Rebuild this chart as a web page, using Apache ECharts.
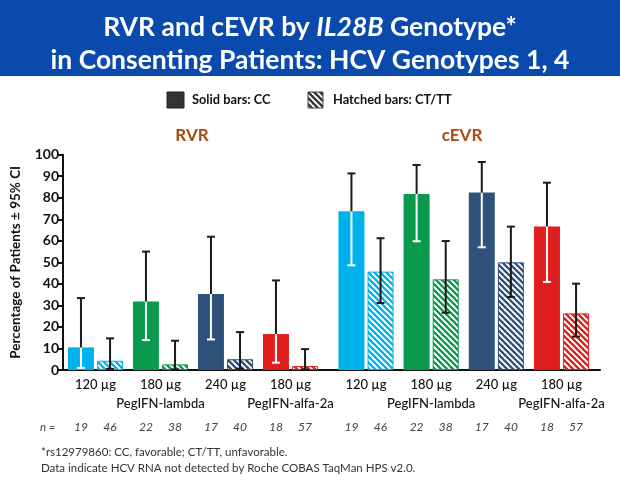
<!DOCTYPE html>
<html>
<head>
<meta charset="utf-8">
<script src="https://cdn.jsdelivr.net/npm/echarts@6/dist/echarts.min.js"></script>
<style>
html,body{margin:0;padding:0;background:#fff;}
#chart{width:620px;height:486px;}
</style>
</head>
<body>
<div id="chart"></div>
<script>
// ---- data ----
var doses = ['120 µg', '180 µg', '240 µg', '180 µg'];
var drugs = ['', 'PegIFN-lambda', '', 'PegIFN-alfa-2a'];
var nCC = [19, 22, 17, 18];
var nCTTT = [46, 38, 40, 57];
var yTicks = [0, 10, 20, 30, 40, 50, 60, 70, 80, 90, 100];

var rvrCC = [10.5, 31.8, 35.3, 16.7];
var rvrCCLow = [1.0, 13.9, 14.2, 3.4];
var rvrCCHigh = [33.4, 55.0, 61.9, 41.6];
var rvrHet = [4.3, 2.6, 5.0, 1.8];
var rvrHetLow = [0.5, 0.3, 0.6, 0.2];
var rvrHetHigh = [14.7, 13.6, 17.6, 9.7];

var cevrCC = [73.7, 81.8, 82.4, 66.7];
var cevrCCLow = [48.6, 59.8, 57.0, 40.9];
var cevrCCHigh = [91.3, 95.2, 96.6, 87.0];
var cevrHet = [45.7, 42.1, 50.0, 26.3];
var cevrHetLow = [31.1, 26.6, 33.9, 15.5];
var cevrHetHigh = [61.2, 59.9, 66.6, 40.1];

// ---- styles ----
var colors = ['#00b2ec', '#0a9a4e', '#2f527a', '#e01e1e'];
var FONT = 'Lato, "Open Sans", sans-serif';
var BARW = 26, GAP = 3.1, OFF = (BARW + GAP) / 2;

function hatch(color) {
  var p = 6;
  var c = document.createElement('canvas');
  c.width = p; c.height = p;
  var ctx = c.getContext('2d');
  ctx.fillStyle = '#ffffff';
  ctx.fillRect(0, 0, p, p);
  ctx.strokeStyle = color;
  ctx.lineWidth = 2.3;
  for (var k = -1; k <= 1; k++) {
    ctx.beginPath();
    ctx.moveTo(k * p - 1, -1);
    ctx.lineTo(k * p + p + 1, p + 1);
    ctx.stroke();
  }
  return { image: c, repeat: 'repeat' };
}

function solidData(vals) {
  return vals.map(function (v, i) { return { value: v, itemStyle: { color: colors[i] } }; });
}
function hatchData(vals) {
  return vals.map(function (v, i) {
    return { value: v, itemStyle: { color: hatch(colors[i]), borderColor: colors[i], borderWidth: 1 } };
  });
}
function errData(ccV, ccL, ccH, hV, hL, hH) {
  var out = [];
  for (var i = 0; i < ccV.length; i++) {
    out.push([i, ccL[i], ccH[i], ccV[i], 0]);
    out.push([i, hL[i], hH[i], hV[i], 1]);
  }
  return out;
}

function renderErr(params, api) {
  var i = api.value(0), lo = api.value(1), hi = api.value(2), top = api.value(3), kind = api.value(4);
  var off = kind === 0 ? -OFF : OFF;
  var pLo = api.coord([i, lo]), pHi = api.coord([i, hi]), pTop = api.coord([i, top]);
  var x = pLo[0] + off;
  var blk = '#1a1a1a', wht = '#ffffff', cap = 4, lw = 2;
  var ch = [];
  if (kind === 0) {
    ch.push({ type: 'line', shape: { x1: x, y1: pLo[1], x2: x, y2: pTop[1] }, style: { stroke: wht, lineWidth: lw } });
    ch.push({ type: 'line', shape: { x1: x - cap, y1: pLo[1], x2: x + cap, y2: pLo[1] }, style: { stroke: wht, lineWidth: lw } });
    ch.push({ type: 'line', shape: { x1: x, y1: pTop[1], x2: x, y2: pHi[1] }, style: { stroke: blk, lineWidth: lw } });
  } else {
    ch.push({ type: 'line', shape: { x1: x, y1: pLo[1], x2: x, y2: pHi[1] }, style: { stroke: blk, lineWidth: lw } });
    ch.push({ type: 'line', shape: { x1: x - cap, y1: pLo[1], x2: x + cap, y2: pLo[1] }, style: { stroke: blk, lineWidth: lw } });
  }
  ch.push({ type: 'line', shape: { x1: x - cap, y1: pHi[1], x2: x + cap, y2: pHi[1] }, style: { stroke: blk, lineWidth: lw } });
  return { type: 'group', children: ch };
}

var doseLabel = {
  show: true, interval: 0, color: '#111', fontFamily: FONT, fontSize: 13, fontWeight: 500, lineHeight: 19, margin: 5,
  formatter: function (v, i) { return drugs[i] ? v + '\n' + drugs[i] : v; }
};
var nLabel = {
  show: true, interval: 0, margin: 0, fontFamily: FONT,
  formatter: function (v, i) { return '{a|' + nCC[i] + '}{b|' + nCTTT[i] + '}'; },
  rich: {
    a: { width: 2 * OFF, align: 'center', fontStyle: 'italic', fontSize: 12, color: '#444', fontFamily: FONT },
    b: { width: 2 * OFF, align: 'center', fontStyle: 'italic', fontSize: 12, color: '#444', fontFamily: FONT }
  }
};
function catAxis(grid, label, offset) {
  return {
    type: 'category', gridIndex: grid, data: doses, position: 'bottom', offset: offset || 0,
    axisLine: { show: false }, axisTick: { show: false }, splitLine: { show: false }, axisLabel: label
  };
}
function hiddenY(grid) {
  return { type: 'value', gridIndex: grid, min: 0, max: 100, interval: 10, show: false };
}

var chart = echarts.init(document.getElementById('chart'), null, { renderer: 'canvas' });
chart.setOption({
  animation: false,
  backgroundColor: '#ffffff',
  title: {
    left: 'center', top: 6,
    text: '{b|RVR and cEVR by }{i|IL28B}{b| Genotype*}\n{b|in Consenting Patients: HCV Genotypes 1, 4}',
    textStyle: {
      rich: {
        b: { color: '#fff', fontFamily: FONT, fontWeight: 'bold', fontSize: 26.5, lineHeight: 33 },
        i: { color: '#fff', fontFamily: FONT, fontWeight: 'bold', fontStyle: 'italic', fontSize: 26.5, lineHeight: 33 }
      }
    }
  },
  graphic: [
    { type: 'rect', z: -10, shape: { x: 0, y: 0, width: 620, height: 76 }, style: { fill: '#0b4aad' } },
    { type: 'rect', shape: { x: 167, y: 92, width: 17, height: 16 }, style: { fill: '#333', stroke: '#222', lineWidth: 1 } },
    { type: 'text', x: 192, y: 100, style: { text: 'Solid bars: CC', fontFamily: FONT, fontWeight: 'bold', fontSize: 12.8, fill: '#111', verticalAlign: 'middle' } },
    { type: 'rect', shape: { x: 308, y: 92, width: 15, height: 16 }, style: { fill: hatch('#333'), stroke: '#444', lineWidth: 1 } },
    { type: 'text', x: 333, y: 100, style: { text: 'Hatched bars: CT/TT', fontFamily: FONT, fontWeight: 'bold', fontSize: 12.8, fill: '#111', verticalAlign: 'middle' } },
    { type: 'text', x: 192, y: 136, style: { text: 'RVR', fontFamily: FONT, fontWeight: 'bold', fontSize: 17, fill: '#a84b10', align: 'center', verticalAlign: 'middle' } },
    { type: 'text', x: 462, y: 136, style: { text: 'cEVR', fontFamily: FONT, fontWeight: 'bold', fontSize: 17, fill: '#a84b10', align: 'center', verticalAlign: 'middle' } },
    { type: 'text', x: 40, y: 427, style: { text: 'n =', fontFamily: FONT, fontStyle: 'italic', fontSize: 11.5, fill: '#444', verticalAlign: 'middle' } },
    { type: 'text', x: 41, y: 452, style: { text: '*rs12979860: CC, favorable; CT/TT, unfavorable.', fontFamily: FONT, fontSize: 11.5, fill: '#333', verticalAlign: 'middle' } },
    { type: 'text', x: 41, y: 468, style: { text: 'Data indicate HCV RNA not detected by Roche COBAS TaqMan HPS v2.0.', fontFamily: FONT, fontSize: 11.5, fill: '#333', verticalAlign: 'middle' } }
  ],
  grid: [
    { left: 63, right: 20, top: 154.7, bottom: 116 },
    { left: 63, width: 260, top: 154.7, bottom: 116 },
    { left: 333.4, width: 260.7, top: 154.7, bottom: 116 }
  ],
  xAxis: [
    { type: 'value', gridIndex: 0, min: 0, max: 1, axisLine: { show: true, lineStyle: { color: '#111', width: 2 } },
      axisTick: { show: false }, axisLabel: { show: false }, splitLine: { show: false } },
    catAxis(1, doseLabel, 0),
    catAxis(1, nLabel, 51),
    catAxis(2, doseLabel, 0),
    catAxis(2, nLabel, 51)
  ],
  yAxis: [
    { type: 'value', gridIndex: 0, min: 0, max: 100, interval: 10,
      name: 'Percentage of Patients ± 95% CI', nameLocation: 'middle', nameGap: 40, nameRotate: 90,
      nameTextStyle: { fontFamily: FONT, fontWeight: 'bold', fontSize: 13.5, color: '#111' },
      axisLine: { show: true, lineStyle: { color: '#111', width: 2 } },
      axisTick: { show: true, length: 5, lineStyle: { color: '#111', width: 2 } },
      axisLabel: { show: true, margin: 4, fontFamily: FONT, fontWeight: 'bold', fontSize: 14, color: '#111',
        formatter: function (v) { return yTicks.indexOf(v) >= 0 ? String(v) : ''; } },
      splitLine: { show: false } },
    hiddenY(1),
    hiddenY(2)
  ],
  series: [
    { type: 'bar', xAxisIndex: 1, yAxisIndex: 1, barWidth: BARW, barGap: (GAP / BARW * 100) + '%', data: solidData(rvrCC) },
    { type: 'bar', xAxisIndex: 1, yAxisIndex: 1, barWidth: BARW, barGap: (GAP / BARW * 100) + '%', data: hatchData(rvrHet) },
    { type: 'bar', xAxisIndex: 3, yAxisIndex: 2, barWidth: BARW, barGap: (GAP / BARW * 100) + '%', data: solidData(cevrCC) },
    { type: 'bar', xAxisIndex: 3, yAxisIndex: 2, barWidth: BARW, barGap: (GAP / BARW * 100) + '%', data: hatchData(cevrHet) },
    { type: 'custom', xAxisIndex: 1, yAxisIndex: 1, z: 10, renderItem: renderErr, encode: { x: 0, y: [1, 2, 3] },
      data: errData(rvrCC, rvrCCLow, rvrCCHigh, rvrHet, rvrHetLow, rvrHetHigh) },
    { type: 'custom', xAxisIndex: 3, yAxisIndex: 2, z: 10, renderItem: renderErr, encode: { x: 0, y: [1, 2, 3] },
      data: errData(cevrCC, cevrCCLow, cevrCCHigh, cevrHet, cevrHetLow, cevrHetHigh) }
  ]
});
</script>
</body>
</html>
